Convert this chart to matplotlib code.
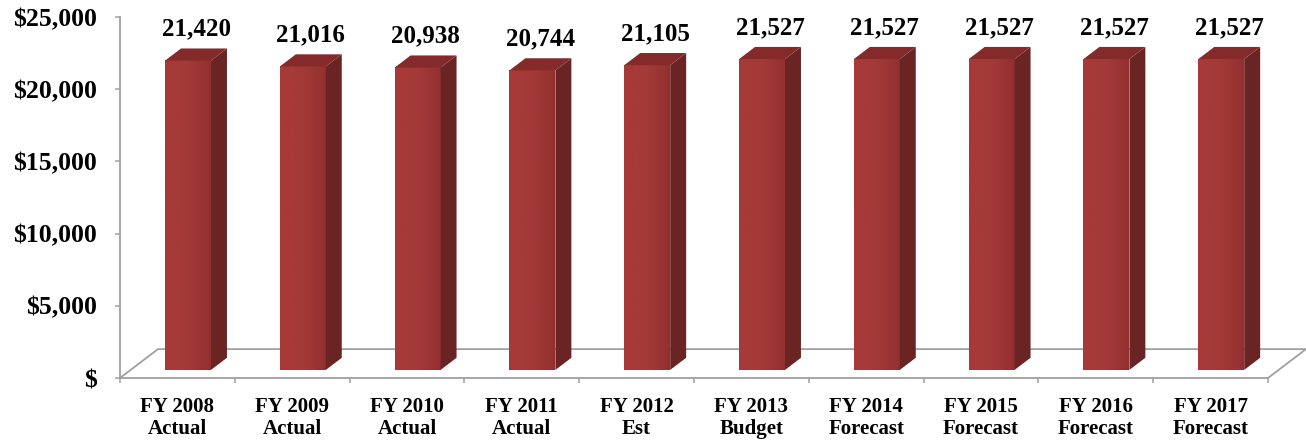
import matplotlib
matplotlib.use("Agg")
import matplotlib.pyplot as plt
import numpy as np
from matplotlib.patches import Polygon
from matplotlib.colors import LinearSegmentedColormap

# Data
categories = ["FY 2008\nActual", "FY 2009\nActual", "FY 2010\nActual", "FY 2011\nActual",
              "FY 2012\nEst", "FY 2013\nBudget", "FY 2014\nForecast", "FY 2015\nForecast",
              "FY 2016\nForecast", "FY 2017\nForecast"]
values = [21420, 21016, 20938, 20744, 21105, 21527, 21527, 21527, 21527, 21527]
ytick_values = [0, 5000, 10000, 15000, 20000, 25000]
ytick_labels = ["$", "$5,000", "$10,000", "$15,000", "$20,000", "$25,000"]

SERIF = "Liberation Serif"
GRID = "#a0a0a0"
FRONT_L = "#a83a39"
FRONT_R = "#93302f"
SIDE = "#6a2424"
TOP = "#842a2a"

W, H, DPI = 1306, 440, 100
fig = plt.figure(figsize=(W / DPI, H / DPI), dpi=DPI)
ax = fig.add_axes([120 / W, 62 / H, 1148 / W, 361 / H])
x_lo, x_hi, y_lo, y_hi = -0.5, len(values) - 0.5, 0, 25000

# oblique depth of the floor, in data units
depth_x = 0.331
depth_y = 2000.0
f0, f1 = 0.28, 0.70      # bar front / back depth fractions
bar_w = 0.40

# floor outline (drawn behind the bars)
floor = [(x_lo, y_lo), (x_lo + depth_x, depth_y), (x_hi + depth_x, depth_y), (x_hi, y_lo)]
fx, fy = zip(*floor)
ax.plot(fx, fy, color=GRID, lw=1.3, clip_on=False, zorder=1, solid_joinstyle="miter")

cmap = LinearSegmentedColormap.from_list("face", [FRONT_L, "#a33a38", FRONT_R])
grad = np.linspace(0, 1, 64).reshape(1, -1)

for i, v in enumerate(values):
    x0 = i - bar_w / 2 + f0 * depth_x
    x1 = x0 + bar_w
    yb = f0 * depth_y
    yt = v + f0 * depth_y
    ddx = (f1 - f0) * depth_x
    ddy = (f1 - f0) * depth_y
    # front face with a soft horizontal gradient
    ax.imshow(grad, extent=[x0, x1, yb, yt], aspect="auto", cmap=cmap,
              zorder=3, interpolation="bilinear", clip_on=False)
    # side face
    ax.add_patch(Polygon([(x1, yb), (x1 + ddx, yb + ddy), (x1 + ddx, yt + ddy), (x1, yt)],
                         closed=True, facecolor=SIDE, edgecolor="none", zorder=3, clip_on=False))
    # top face
    ax.add_patch(Polygon([(x0, yt), (x0 + ddx, yt + ddy), (x1 + ddx, yt + ddy), (x1, yt)],
                         closed=True, facecolor=TOP, edgecolor="none", zorder=3, clip_on=False))
    # value label
    ax.text(i + (f0 + f1) / 2 * depth_x, v + f1 * depth_y + 1330, f"{v:,}",
            ha="center", va="center", fontsize=18, fontweight="bold",
            family=SERIF, color="black", clip_on=False, zorder=5)

ax.set_xlim(x_lo, x_hi)
ax.set_ylim(y_lo, y_hi)
ax.set_facecolor("none")

for s in ("top", "right"):
    ax.spines[s].set_visible(False)
for s in ("left", "bottom"):
    ax.spines[s].set_color(GRID)
    ax.spines[s].set_linewidth(1.3)
    ax.spines[s].set_zorder(2)

ax.set_yticks(ytick_values)
ax.set_yticklabels(ytick_labels, fontsize=18.5, fontweight="bold", family=SERIF)
ax.tick_params(axis="y", direction="out", length=3.6, width=1.1, color=GRID, pad=13)

ax.set_xticks(np.arange(x_lo, x_hi + 0.01, 1.0))
ax.set_xticklabels([])
ax.set_xticks(np.arange(len(categories)), minor=True)
ax.set_xticklabels(categories, minor=True, fontsize=15, fontweight="bold", family=SERIF,
                   linespacing=1.12)
ax.tick_params(axis="x", which="major", direction="out", length=3.6, width=1.1, color=GRID)
ax.tick_params(axis="x", which="minor", length=0, pad=14)

fig.savefig("out.png", dpi=DPI, facecolor="white")
